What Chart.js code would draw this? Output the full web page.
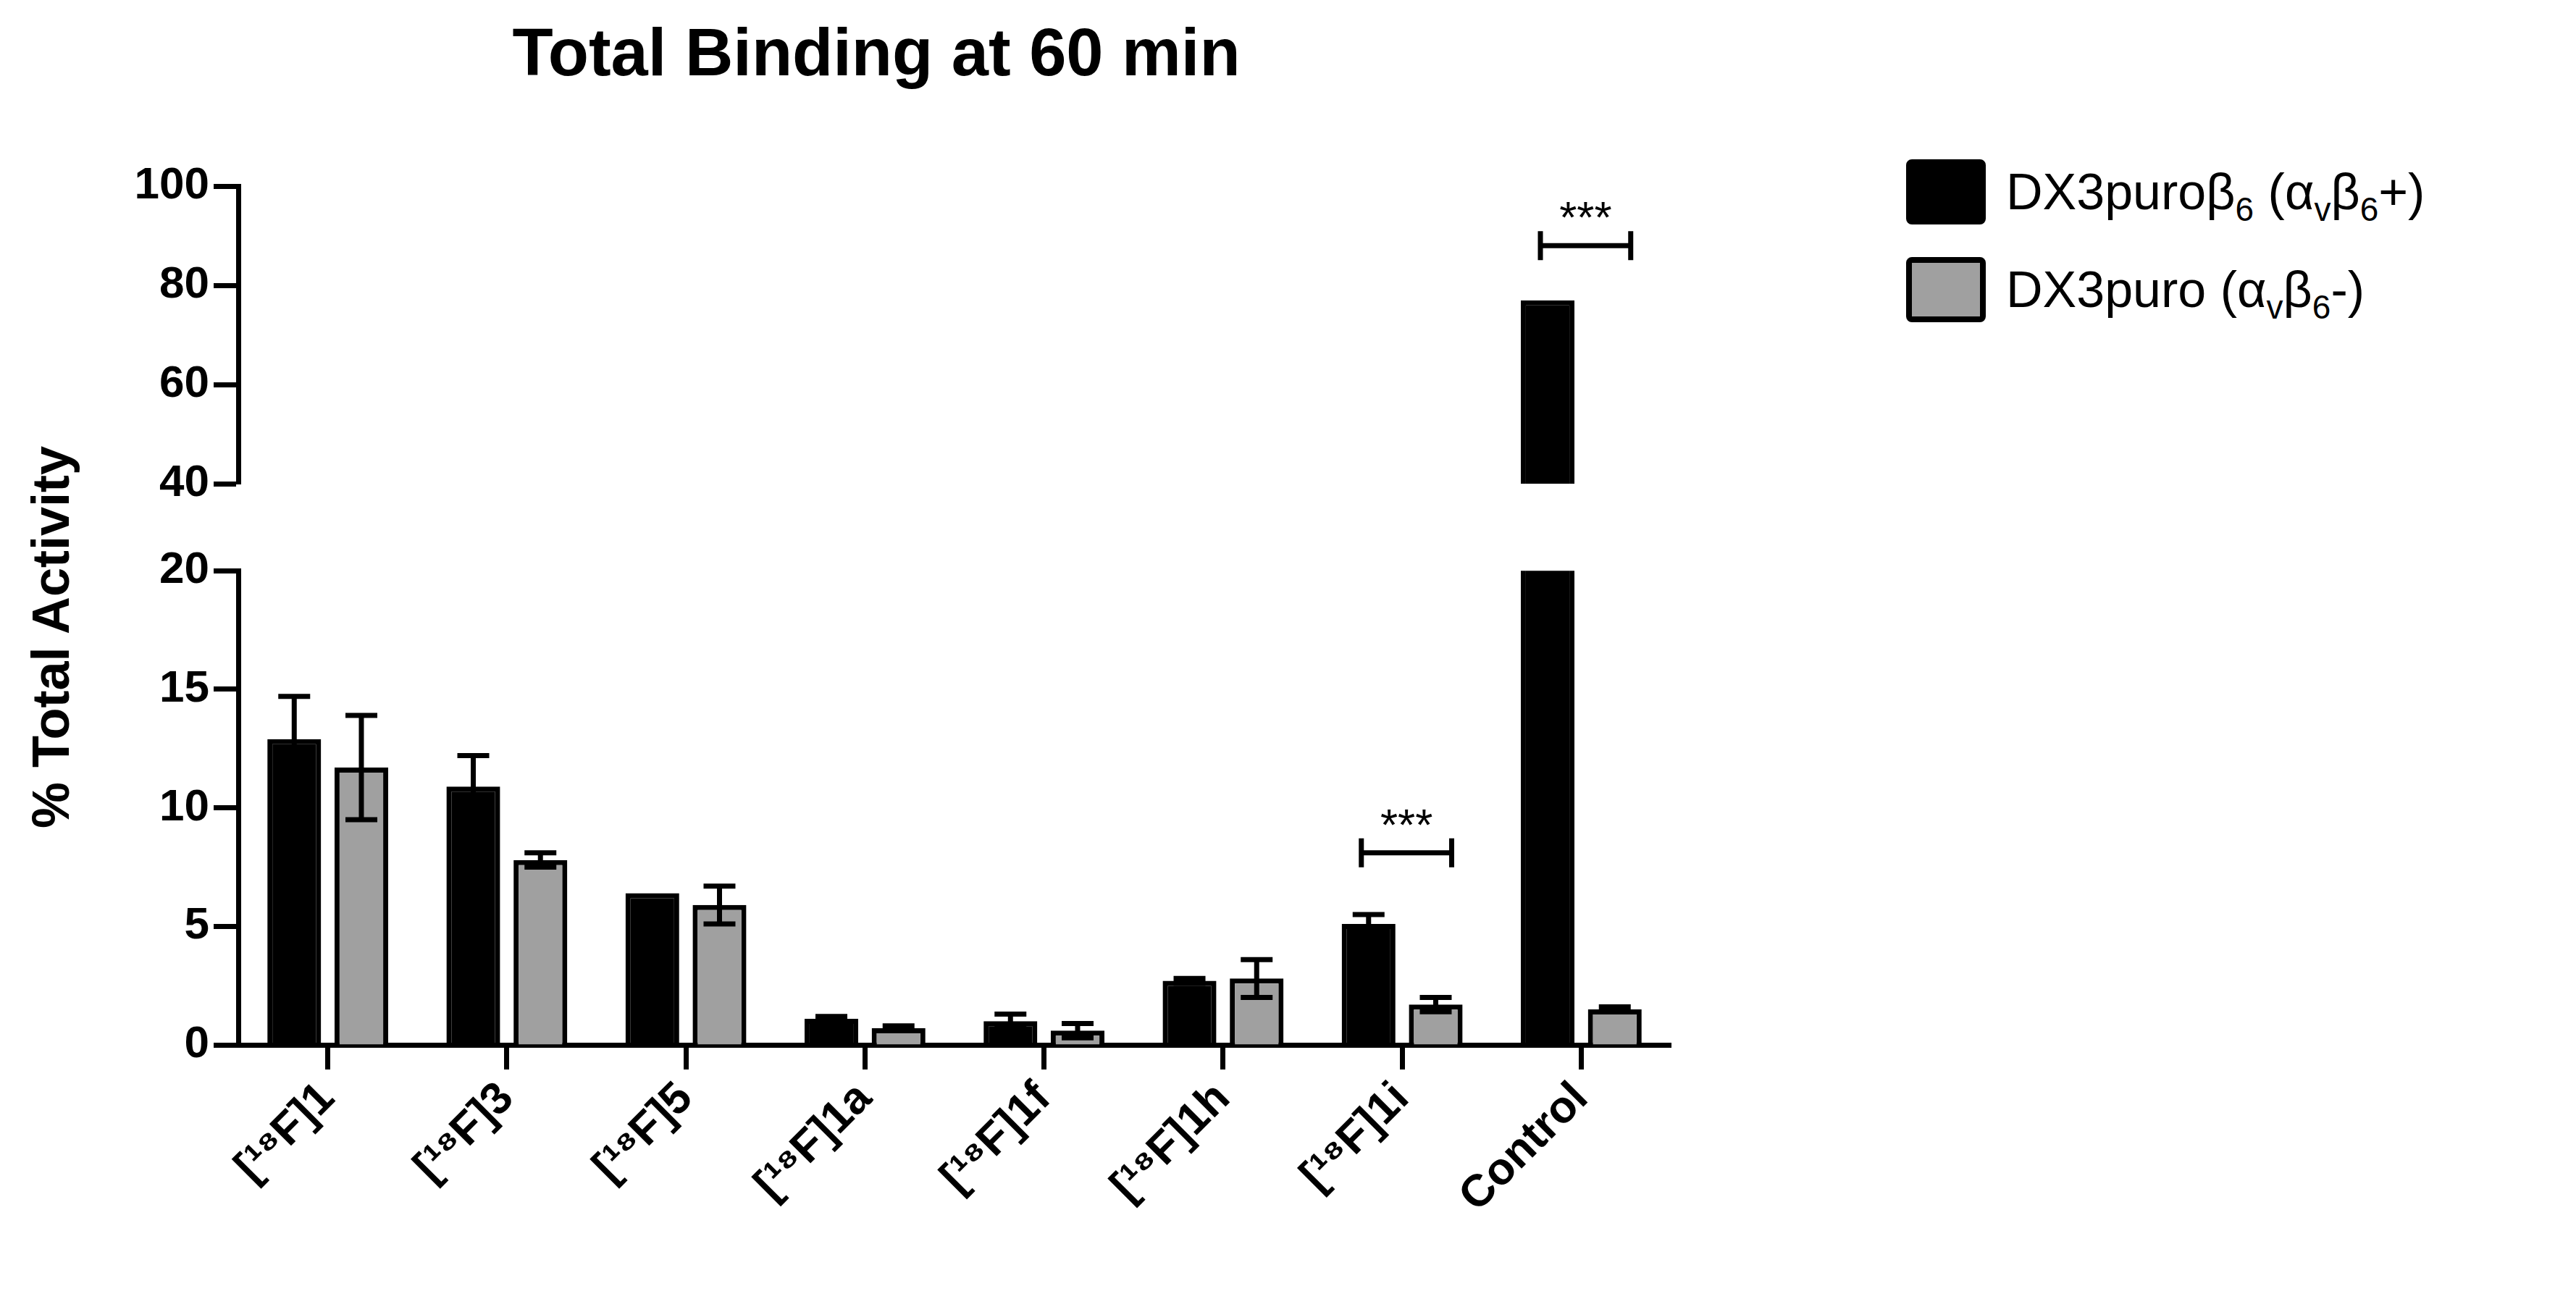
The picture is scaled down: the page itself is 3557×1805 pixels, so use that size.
<!DOCTYPE html>
<html>
<head>
<meta charset="utf-8">
<script src="https://cdn.jsdelivr.net/npm/chart.js@4/dist/chart.umd.min.js"></script>
<style>
  body { margin:0; width:3557px; height:1805px; background:#fff; position:relative; overflow:hidden;
         font-family:"Liberation Sans", Arial, sans-serif; }
  canvas { position:absolute; left:0; }
  #title { position:absolute; left:530px; top:20px; width:1360px; text-align:center; font-weight:bold; font-size:92px; }
  #ytitle { position:absolute; left:70px; top:880px; transform:translate(-50%,-50%) rotate(-90deg);
            font-weight:bold; font-size:72px; white-space:nowrap; }
  .leg { position:absolute; left:2632px; font-size:70px; display:flex; align-items:center; }
  .box { width:110px; height:90px; border:8px solid #000; border-radius:8px; box-sizing:border-box; margin-right:28px; }
  .s { font-size:46px; position:relative; top:16px; }
</style>
</head>
<body>
<div id="title">Total Binding at 60 min</div>
<div id="ytitle">% Total Activity</div>
<div class="leg" style="top:220px"><div class="box" style="background:#000"></div><span>DX3puroβ<span class="s">6</span>&nbsp;(α<span class="s">v</span>β<span class="s">6</span>+)</span></div>
<div class="leg" style="top:355px"><div class="box" style="background:#a0a0a0"></div><span>DX3puro (α<span class="s">v</span>β<span class="s">6</span>-)</span></div>
<canvas id="upper" width="2320" height="500" style="top:214px"></canvas>
<canvas id="lower" width="2320" height="1060" style="top:745px"></canvas>
<script>
const categories = ["[¹⁸F]1", "[¹⁸F]3", "[¹⁸F]5", "[¹⁸F]1a", "[¹⁸F]1f", "[¹⁸F]1h", "[¹⁸F]1i", "Control"];
const posValues = [12.9, 10.9, 6.4, 1.1, 1.0, 2.7, 5.1, 77.0];
const posErrors = [1.8, 1.3, 0.0, 0.1, 0.3, 0.1, 0.4, 0.0];
const negValues = [11.7, 7.8, 5.9, 0.7, 0.6, 2.8, 1.7, 1.5];
const negErrors = [2.2, 0.3, 0.8, 0.1, 0.3, 0.8, 0.3, 0.1];
const lowerTicks = [0, 5, 10, 15, 20];
const upperTicks = [40, 60, 80, 100];
// significance: [category index, y value, which chart]
const sigMarks = [[6, 8.1, "lower"], [7, 88, "upper"]];

const AXIS = 329;
const tickFont = { family: "Liberation Sans", weight: "bold", size: 62 };

const errorBars = {
  id: "errorBars",
  afterDatasetsDraw(chart) {
    const ctx = chart.ctx, y = chart.scales.y, errs = [posErrors, negErrors];
    ctx.save();
    ctx.beginPath();
    ctx.rect(chart.chartArea.left, chart.chartArea.top - 10, chart.chartArea.width, chart.chartArea.height + 10);
    ctx.clip();
    ctx.strokeStyle = "#000"; ctx.lineWidth = 7;
    chart.data.datasets.forEach((ds, di) => {
      chart.getDatasetMeta(di).data.forEach((bar, i) => {
        const v = ds.data[i], e = errs[di][i];
        if (v == null || !e) return;
        const t = y.getPixelForValue(v + e), b = y.getPixelForValue(v - e);
        ctx.beginPath();
        ctx.moveTo(bar.x, t); ctx.lineTo(bar.x, b);
        ctx.moveTo(bar.x - 22, t); ctx.lineTo(bar.x + 22, t);
        ctx.moveTo(bar.x - 22, b); ctx.lineTo(bar.x + 22, b);
        ctx.stroke();
      });
    });
    ctx.restore();
    // significance brackets
    ctx.save();
    ctx.strokeStyle = "#000"; ctx.lineWidth = 7; ctx.fillStyle = "#000";
    ctx.font = "62px 'Liberation Sans'"; ctx.textAlign = "center";
    sigMarks.forEach(([ci, val, which]) => {
      if (which !== chart.canvas.id) return;
      const x1 = chart.getDatasetMeta(0).data[ci].x - 10;
      const x2 = chart.getDatasetMeta(1).data[ci].x + 22;
      const py = y.getPixelForValue(val);
      ctx.beginPath();
      ctx.moveTo(x1, py); ctx.lineTo(x2, py);
      ctx.moveTo(x1, py - 20); ctx.lineTo(x1, py + 20);
      ctx.moveTo(x2, py - 20); ctx.lineTo(x2, py + 20);
      ctx.stroke();
      ctx.fillText("***", (x1 + x2) / 2, py - 18);
    });
    ctx.restore();
  }
};

function makeChart(id, min, max, ticks, showX, padding) {
  return new Chart(document.getElementById(id), {
    type: "bar",
    data: {
      labels: categories,
      datasets: [
        { data: posValues, backgroundColor: "#000", borderColor: "#000", borderWidth: 7 },
        { data: negValues, backgroundColor: "#a0a0a0", borderColor: "#000", borderWidth: 7 }
      ]
    },
    options: {
      responsive: false, animation: false,
      layout: { padding: padding },
      plugins: { legend: { display: false }, tooltip: { enabled: false } },
      datasets: { bar: { categoryPercentage: 0.75, barPercentage: 0.8 } },
      scales: {
        x: {
          display: showX,
          grid: { display: true, drawOnChartArea: false, offset: false, tickLength: 34, tickWidth: 7, tickColor: "#000" },
          border: { width: 7, color: "#000" },
          ticks: { font: tickFont, color: "#000", minRotation: 45, maxRotation: 45, padding: 4 },
          afterFit: s => { s.height = showX ? 362 : 0; }
        },
        y: {
          min: min, max: max,
          afterBuildTicks: s => { s.ticks = ticks.map(v => ({ value: v })); },
          grid: { display: true, drawOnChartArea: false, tickLength: 34, tickWidth: 7, tickColor: "#000" },
          border: { width: 7, color: "#000" },
          ticks: { font: tickFont, color: "#000", padding: 6 },
          afterFit: s => { s.width = AXIS; }
        }
      }
    },
    plugins: [errorBars]
  });
}

makeChart("upper", 40, 100, upperTicks, false, { top: 40, bottom: 46, right: 13 });
makeChart("lower", 0, 20, lowerTicks, true, { top: 40, right: 13 });
</script>
</body>
</html>
